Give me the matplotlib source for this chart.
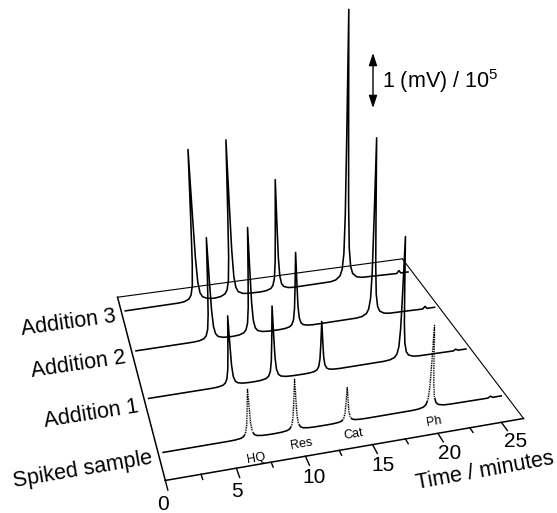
import numpy as np
import matplotlib
matplotlib.use('Agg')
import matplotlib.pyplot as plt
from matplotlib.patches import FancyArrowPatch
from mpl_toolkits.mplot3d import proj3d

plt.rcParams['font.family'] = ['Liberation Sans', 'DejaVu Sans']
plt.rcParams['mathtext.fontset'] = 'custom'
plt.rcParams['mathtext.rm'] = 'Liberation Sans'
plt.rcParams['mathtext.it'] = 'Liberation Sans'
plt.rcParams['mathtext.default'] = 'regular'

# ---------------- data ----------------
row_labels = ['Spiked sample', 'Addition 1', 'Addition 2', 'Addition 3']
compounds = ['HQ', 'Res', 'Cat', 'Ph']
# retention times (minutes) of the four peaks in each chromatogram
peak_times = {
    'Spiked sample': [6.63, 10.09, 14.05, 20.66],
    'Addition 1':    [6.74, 10.20, 14.14, 20.82],
    'Addition 2':    [6.61, 9.99, 13.95, 20.76],
    'Addition 3':    [6.58, 9.81, 13.98, 20.45],
}
# peak heights in units of (mV)/1e5
peak_heights = {
    'Spiked sample': [0.94, 0.99, 0.66, 1.58],
    'Addition 1':    [1.38, 1.45, 1.01, 2.43],
    'Addition 2':    [2.09, 2.19, 1.57, 3.63],
    'Addition 3':    [3.18, 3.29, 2.38, 5.56],
}
# small late-eluting bump near the end of each run
bump_time = [25.5, 25.5, 25.5, 25.5]
bump_height = [0.03, 0.03, 0.05, 0.06]
run_start, run_end = 0.35, 26.4
# shape of a single peak (time offset from apex, fraction of apex height)
profile_dt = [-1.5, -1.0, -0.6, -0.4, -0.25, -0.15, -0.08, 0.0, 0.08, 0.15, 0.25, 0.4, 0.6, 1.0, 1.5]
profile_rel = [0.0035, 0.008, 0.022, 0.048, 0.11, 0.26, 0.55, 1.0, 0.6, 0.3, 0.13, 0.055, 0.025, 0.009, 0.004]
time_ticks_major = [0, 5, 10, 15, 20, 25]
time_ticks_minor = [2.5, 7.5, 12.5, 17.5, 22.5]

# ---------------- view / layout ----------------
W, H = 557, 513
T_MAX = 26.78
Z_MAX = 5.843
ROW_DEPTH = [0.119, 0.382, 0.648, 0.902]
ELEV, AZIM, ROLL, FOCAL = 24.811, -104.910, 0.510, 0.3701
BOX = (1.0, 0.9966, 0.9899)
SIM_S, SIM_TX, SIM_TY = 3156.436, 300.9745, 204.8271
TICK_LABEL_T = [-0.56, 4.54, 9.92, 14.93, 19.91, 25.01]
COMPOUND_LABEL_POS = [(6.58, 0.028), (10.07, 0.055), (14.10, 0.059), (20.24, 0.052)]

fig = plt.figure(figsize=(W / 100, H / 100), dpi=100)
ax = fig.add_axes([0, 0, 1, 1], projection='3d')
vx0, vx1 = ax.viewLim.intervalx
vy0, vy1 = ax.viewLim.intervaly
L = SIM_TX + SIM_S * vx0
Bt = (H - SIM_TY) + SIM_S * vy0
ax.set_position([L / W, Bt / H, SIM_S * (vx1 - vx0) / W, SIM_S * (vy1 - vy0) / H])

ax.set_xlim(0, T_MAX)
ax.set_ylim(0, 1)
ax.set_zlim(0, Z_MAX)
ax.set_box_aspect(BOX)
ax.view_init(elev=ELEV, azim=AZIM, roll=ROLL)
ax.set_proj_type('persp', focal_length=FOCAL)
ax.set_axis_off()
M = ax.get_proj()


def label3d(t, d, z, s, along_time=False, **kw):
    """Place a flat text at the projected position of a 3-D point."""
    x2, y2, _ = proj3d.proj_transform(t, d, z, M)
    rot = 0.0
    if along_time:
        xa, ya, _ = proj3d.proj_transform(t + 1.0, d, z, M)
        rot = np.degrees(np.arctan2(ya - y2, xa - x2))
    ax.text2D(x2, y2, s, transform=ax.transData, rotation=rot, **kw)


# floor outline
ax.plot([0, T_MAX], [0, 0], [0, 0], color='black', lw=1.1)
ax.plot([0, 0], [0, 1], [0, 0], color='black', lw=1.1)
ax.plot([0, T_MAX], [1, 1], [0, 0], color='black', lw=0.8)
ax.plot([T_MAX, T_MAX], [0, 1], [0, 0], color='black', lw=0.8)

# ticks on the time axis
for t, lt in zip(time_ticks_major, TICK_LABEL_T):
    ax.plot([t, t], [0, -0.04], [0, 0], color='black', lw=1.0)
    label3d(lt, -0.092, 0, str(t), ha='center', va='center', fontsize=15)
for t in time_ticks_minor:
    ax.plot([t, t], [0, -0.022], [0, 0], color='black', lw=1.0)
label3d(21.56, -0.187, 0, 'Time / minutes', along_time=True, ha='center', va='center', fontsize=15.5)

# chromatograms
prof_dt = np.array(profile_dt)
prof_rel = np.array(profile_rel)
for i, name in enumerate(row_labels):
    ts = [run_start]
    zs = [0.0]
    for tp, hp in zip(peak_times[name], peak_heights[name]):
        ts.extend(tp + prof_dt)
        zs.extend(hp * prof_rel)
    ts.extend([bump_time[i] - 0.2, bump_time[i], bump_time[i] + 0.2, run_end])
    zs.extend([0.0, bump_height[i], 0.0, 0.0])
    ys = np.full(len(ts), ROW_DEPTH[i])
    ax.plot(ts, ys, zs, color='black', lw=1.15)
    if i == 0:
        # the spiked-sample peaks are drawn as fine dotted strokes
        for tp, hp in zip(peak_times[name], peak_heights[name]):
            ax.plot(tp + prof_dt[4:11], np.full(7, ROW_DEPTH[i]), hp * prof_rel[4:11],
                    color='white', lw=1.6)
            ax.plot(tp + prof_dt[4:11], np.full(7, ROW_DEPTH[i]), hp * prof_rel[4:11],
                    color='black', lw=0.9, linestyle=(0, (1.2, 0.7)))
    label3d(-0.6, ROW_DEPTH[i] - 0.068, 0, name, along_time=True, ha='right', va='center', fontsize=15.5)

# compound labels under the spiked sample
for cname, (lt, ld) in zip(compounds, COMPOUND_LABEL_POS):
    label3d(lt, ld, 0, cname, along_time=True, ha='center', va='center', fontsize=9)

# scale bar
fig.add_artist(FancyArrowPatch(
    (373, H - 108), (373, H - 53), transform=None,
    arrowstyle='<|-|>,head_length=0.75,head_width=0.25', color='black', lw=1.0,
    shrinkA=0, shrinkB=0, mutation_scale=10))
fig.text(382 / W, 1 - 81 / H, '1 (mV) / 10$^5$', ha='left', va='center', fontsize=15.5)

fig.savefig('out.png', dpi=100)
